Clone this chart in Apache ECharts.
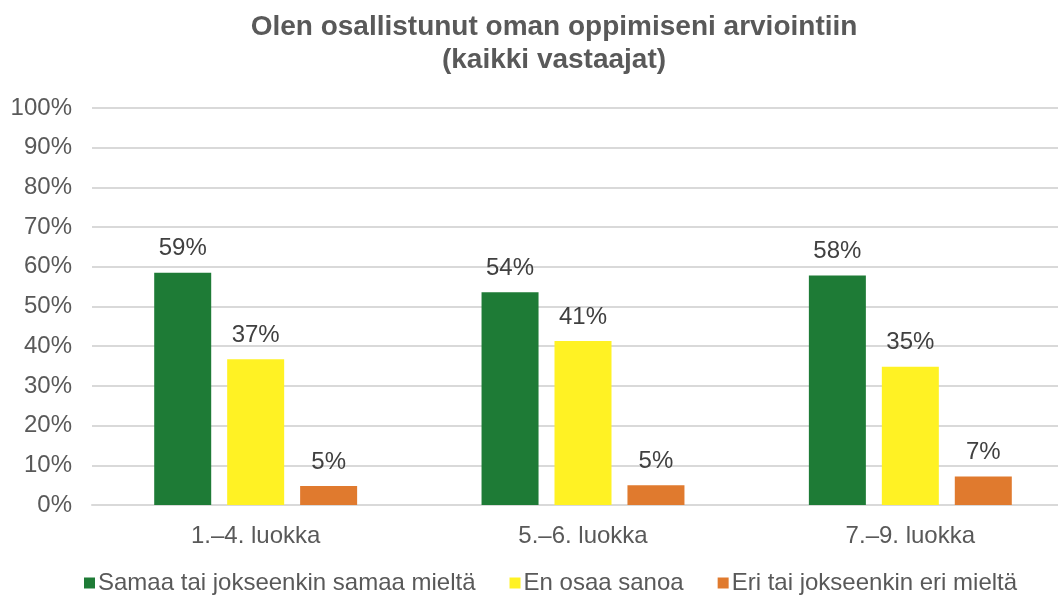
<!DOCTYPE html>
<html>
	<head>
		<meta charset="utf-8">
		<title></title>
		<script src="https://cdn.jsdelivr.net/npm/echarts@6/dist/echarts.min.js"></script>
	</head>
	<body style="margin: 0;">
		<div id="main" style="width: 1058px; height: 598px;"></div>
		<script type="text/javascript">
			var categories = ['1.\u20134. luokka', '5.\u20136. luokka', '7.\u20139. luokka'];
			var seriesNames = ['Samaa tai jokseenkin samaa mieltä', 'En osaa sanoa', 'Eri tai jokseenkin eri mieltä'];
			var samaa = [58.5, 53.6, 57.8];
			var enOsaa = [36.7, 41.3, 34.8];
			var eri = [4.8, 5.0, 7.2];
			var colors = ['#1e7b36', '#fff224', '#e07a2e'];

			var myChart = echarts.init(document.getElementById('main'));

			function makeSeries(name, data, color) {
				return {
					name: name,
					type: 'bar',
					data: data,
					barWidth: 57,
					barGap: '28%',
					itemStyle: { color: color },
					label: {
						show: true,
						position: 'top',
						distance: 12,
						color: '#404040',
						fontSize: 24,
						fontFamily: 'Liberation Sans',
						formatter: function (p) { return Math.round(p.value) + '%'; }
					}
				};
			}

			option = {
				textStyle: { fontFamily: 'Liberation Sans' },
				title: {
					text: 'Olen osallistunut oman oppimiseni arviointiin\n(kaikki vastaajat)',
					left: 549,
					textAlign: 'center',
					top: 6,
					textStyle: {
						color: '#595959',
						fontSize: 28,
						fontWeight: 'bold',
						lineHeight: 33,
						fontFamily: 'Liberation Sans'
					}
				},
				legend: {
					top: 566,
					left: 79,
					itemWidth: 11,
					itemHeight: 11,
					itemGap: 34,
					icon: 'rect',
					data: seriesNames,
					textStyle: { color: '#595959', fontSize: 24, padding: [0, 0, 0, -2] }
				},
				grid: { left: 92, top: 108, width: 982, height: 397, outerBoundsMode: 'none' },
				xAxis: {
					type: 'category',
					data: categories,
					axisLine: { lineStyle: { color: '#d9d9d9', width: 2 } },
					axisTick: { show: false },
					axisLabel: { color: '#595959', fontSize: 24, margin: 19 }
				},
				yAxis: {
					type: 'value',
					min: 0,
					max: 100,
					interval: 10,
					axisLine: { show: false },
					axisTick: { show: false },
					splitLine: { lineStyle: { color: '#d9d9d9', width: 2 } },
					axisLabel: { color: '#595959', fontSize: 24, margin: 20, formatter: '{value}%' }
				},
				series: [
					makeSeries(seriesNames[0], samaa, colors[0]),
					makeSeries(seriesNames[1], enOsaa, colors[1]),
					makeSeries(seriesNames[2], eri, colors[2])
				]
			};
			myChart.setOption(option);
		</script>
	</body>
</html>
